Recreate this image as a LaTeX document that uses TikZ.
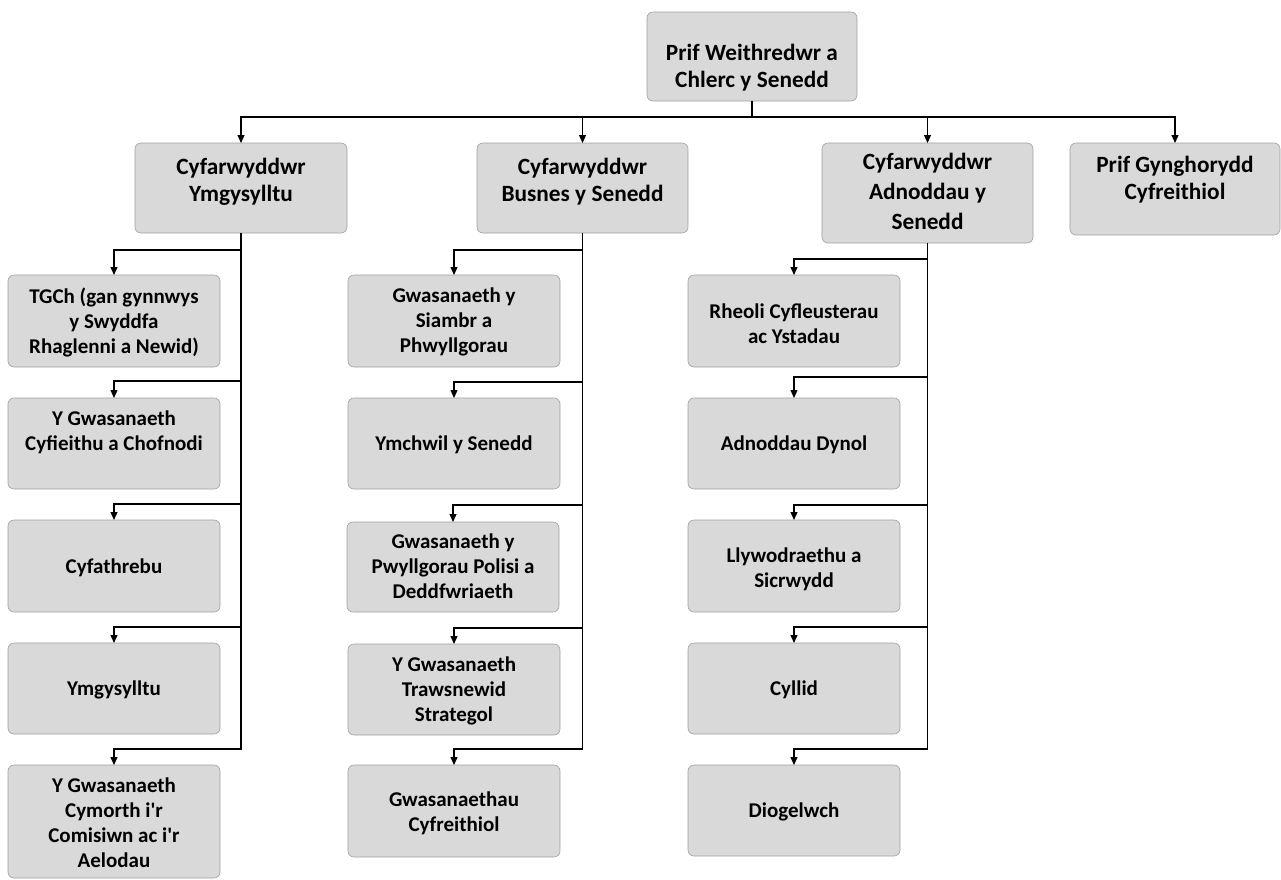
\documentclass[tikz,border=0pt]{standalone}
\usepackage{fontspec}
\setmainfont{Carlito}
\usetikzlibrary{arrows.meta}
\definecolor{boxfill}{HTML}{D9D9D9}
\definecolor{boxline}{HTML}{A0A0A0}
\tikzset{
  orgshape/.style={draw=boxline, fill=boxfill, line width=0.6pt, rounded corners=6pt, inner sep=0pt, outer sep=0pt},
  orgtext/.style={text=black, align=center, inner sep=0pt, execute at begin node=\strut, execute at end node=\strut},
  bigfont/.style={orgtext, font=\fontsize{23.3}{27.5}\selectfont\bfseries},
  bigfontwide/.style={orgtext, font=\fontsize{23.3}{30}\selectfont\bfseries},
  smallfont/.style={orgtext, font=\fontsize{21}{25}\selectfont\bfseries},
  link/.style={draw=black, line width=1.2pt},
  arr/.style={link, -{Triangle[length=8pt,width=7pt]}},
}
% name, x1, y1, x2, y2, text centre y, text style, text
\newcommand\orgbox[8]{%
  \node[orgshape, minimum width={#4-#2}, minimum height={#5-#3}] (#1) at ({(#2+#4)/2},{(#3+#5)/2}) {};
  \node[#7] (#1t) at ({(#2+#4)/2},#6) {#8};
}
\newcommand\apos{\textquotesingle}
\begin{document}
\begin{tikzpicture}[x=1pt,y=-1pt]
\useasboundingbox (0,0) rectangle (1281,879);

% top
\orgbox{T}{647}{12}{857}{101}{70}{bigfont}{Prif Weithredwr a\\Chlerc y Senedd}

% managers
\orgbox{M1}{135}{143}{347}{233}{184}{bigfont}{Cyfarwyddwr\\Ymgysylltu}
\orgbox{M2}{477}{143}{688}{233}{184}{bigfont}{Cyfarwyddwr\\Busnes y Senedd}
\orgbox{M3}{822}{143}{1033}{243}{196}{bigfontwide}{Cyfarwyddwr\\Adnoddau y\\Senedd}
\orgbox{M4}{1070}{143}{1280}{235}{182}{bigfont}{Prif Gynghorydd\\Cyfreithiol}

% column 1
\orgbox{C11}{8}{275}{220}{367}{324}{smallfont}{TGCh (gan gynnwys\\y Swyddfa\\Rhaglenni a Newid)}
\orgbox{C12}{8}{398}{220}{489}{434}{smallfont}{Y Gwasanaeth\\Cyfieithu a Chofnodi}
\orgbox{C13}{8}{520}{220}{612}{568}{smallfont}{Cyfathrebu}
\orgbox{C14}{8}{643}{220}{734}{690}{smallfont}{Ymgysylltu}
\orgbox{C15}{8}{765}{220}{878}{826}{smallfont}{Y Gwasanaeth\\Cymorth i\apos r\\Comisiwn ac i\apos r\\Aelodau}

% column 2
\orgbox{C21}{348}{275}{560}{367}{324}{smallfont}{Gwasanaeth y\\Siambr a\\Phwyllgorau}
\orgbox{C22}{348}{398}{560}{489}{445}{smallfont}{Ymchwil y Senedd}
\orgbox{C23}{347}{522}{559}{612}{570}{smallfont}{Gwasanaeth y\\Pwyllgorau Polisi a\\Deddfwriaeth}
\orgbox{C24}{348}{644}{560}{735}{693}{smallfont}{Y Gwasanaeth\\Trawsnewid\\Strategol}
\orgbox{C25}{348}{765}{560}{857}{815}{smallfont}{Gwasanaethau\\Cyfreithiol}

% column 3
\orgbox{C31}{688}{275}{900}{367}{327}{smallfont}{Rheoli Cyfleusterau\\ac Ystadau}
\orgbox{C32}{688}{398}{900}{489}{445}{smallfont}{Adnoddau Dynol}
\orgbox{C33}{688}{520}{900}{612}{571}{smallfont}{Llywodraethu a\\Sicrwydd}
\orgbox{C34}{688}{643}{900}{734}{690}{smallfont}{Cyllid}
\orgbox{C35}{688}{765}{900}{856}{812}{smallfont}{Diogelwch}

% top connectors
\coordinate (j0) at (752,117);
\draw[link] (T.south) -- (j0);
\draw[arr] (j0) -| (M1.north);
\draw[arr] (j0) -| (M2.north);
\draw[arr] (j0) -| (M3.north);
\draw[arr] (j0) -| (M4.north);

% column 1 connectors
\coordinate (b11) at (241,250);
\coordinate (b12) at (241,381);
\coordinate (b13) at (241,504);
\coordinate (b14) at (241,627);
\coordinate (b15) at (241,749);
\draw[arr] (M1.south) -- (b11) -| (C11.north);
\draw[arr] (M1.south) -- (b12) -| (C12.north);
\draw[arr] (M1.south) -- (b13) -| (C13.north);
\draw[arr] (M1.south) -- (b14) -| (C14.north);
\draw[arr] (M1.south) -- (b15) -| (C15.north);

% column 2 connectors
\coordinate (b21) at (582.5,250);
\coordinate (b22) at (582.5,382);
\coordinate (b23) at (582.5,505);
\coordinate (b24) at (582.5,628);
\coordinate (b25) at (582.5,749);
\draw[arr] (M2.south) -- (b21) -| (C21.north);
\draw[arr] (M2.south) -- (b22) -| (C22.north);
\draw[arr] (M2.south) -- (b23) -| (C23.north);
\draw[arr] (M2.south) -- (b24) -| (C24.north);
\draw[arr] (M2.south) -- (b25) -| (C25.north);

% column 3 connectors
\coordinate (b31) at (927.5,259);
\coordinate (b32) at (927.5,377);
\coordinate (b33) at (927.5,505);
\coordinate (b34) at (927.5,627);
\coordinate (b35) at (927.5,749);
\draw[arr] (M3.south) -- (b31) -| (C31.north);
\draw[arr] (M3.south) -- (b32) -| (C32.north);
\draw[arr] (M3.south) -- (b33) -| (C33.north);
\draw[arr] (M3.south) -- (b34) -| (C34.north);
\draw[arr] (M3.south) -- (b35) -| (C35.north);
\end{tikzpicture}
\end{document}
